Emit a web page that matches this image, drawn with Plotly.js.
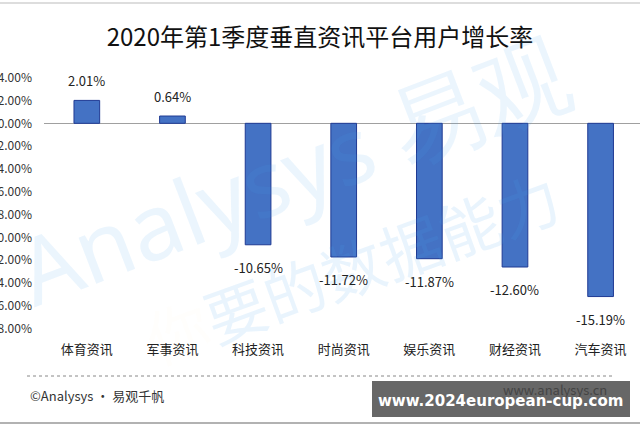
<!DOCTYPE html>
<html><head><meta charset="utf-8">
<script src="https://cdn.plot.ly/plotly-3.0.1.min.js"></script>
<style>html,body{margin:0;padding:0;overflow:hidden;background:#fff}#chart{width:640px;height:427px}</style>
</head><body><div id="chart"></div>
<script>
const categories = ["体育资讯","军事资讯","科技资讯","时尚资讯","娱乐资讯","财经资讯","汽车资讯"];
const growth = [2.01, 0.64, -10.65, -11.72, -11.87, -12.60, -15.19];
const yTicks = [4,2,0,-2,-4,-6,-8,-10,-12,-14,-16,-18];

const W = 640, H = 427;
const M = {l:44, r:0, t:72, b:87};
const PW = W - M.l - M.r, PH = H - M.t - M.b;
const px = x => (x - M.l) / PW;
const py = y => (H - M.b - y) / PH;

const fontCJK = '"Noto Sans CJK SC", "Noto Sans", sans-serif';

const annotations = [
  {xref:'paper', yref:'paper', x:px(292), y:py(170), xanchor:'center', yanchor:'middle', text:'Analysys 易观', showarrow:false,
   textangle:-21, font:{family:'"Noto Sans", sans-serif', size:92, color:'rgba(70,165,235,0.11)'}},
  {xref:'paper', yref:'paper', x:px(352), y:py(266), xanchor:'center', yanchor:'middle', showarrow:false, textangle:-20,
   text:'<span style="color:rgba(250,160,70,0.14)">你</span>要的数据能力',
   font:{family:fontCJK, size:62, color:'rgba(70,165,235,0.12)'}}
];

growth.forEach((v, i) => annotations.push({
  x: categories[i], y: v, xref: 'x', yref: 'y',
  text: v.toFixed(2) + '%', showarrow: false,
  xanchor: 'center', yanchor: v >= 0 ? 'bottom' : 'top',
  yshift: v >= 0 ? 8 : -11,
  font: {family: fontCJK, size: 13, color: '#222'}
}));

annotations.push(
  {xref:'paper', yref:'paper', x:px(28), y:py(395), xanchor:'left', yanchor:'middle', showarrow:false,
   text:'©Analysys · 易观千帆', font:{family:fontCJK, size:13, color:'#333'}},
  {xref:'paper', yref:'paper', x:px(609), y:py(389), xanchor:'right', yanchor:'middle', showarrow:false,
   text:'www.analysys.cn', font:{family:fontCJK, size:13, color:'#444'}},
  {xref:'paper', yref:'paper', x:px(500), y:py(401), xanchor:'center', yanchor:'middle', showarrow:false,
   text:'<b>www.2024european-cup.com</b>', font:{family:'"DejaVu Sans", sans-serif', size:15, color:'#fff'}}
);

const shapes = [
  {type:'line', xref:'paper', yref:'paper', x0:px(0), x1:px(640), y0:py(3), y1:py(3), line:{color:'#bbb', width:1}},
  {type:'line', xref:'paper', yref:'paper', x0:px(27), x1:px(612), y0:py(376), y1:py(376), line:{color:'#888', width:1, dash:'dot'}},
  {type:'rect', xref:'paper', yref:'paper', x0:px(372), x1:px(630), y0:py(381), y1:py(417), fillcolor:'rgba(90,90,90,0.92)', line:{width:0}},
  {type:'line', xref:'paper', yref:'paper', x0:px(0), x1:px(640), y0:py(423), y1:py(423), line:{color:'#999', width:1.5}}
];

const data = [{
  type:'bar', x:categories, y:growth,
  marker:{color:'#4472C4', line:{color:'#1f3a93', width:1}},
  hoverinfo:'none'
}];

const layout = {
  width:W, height:H, margin:M,
  paper_bgcolor:'#fff', plot_bgcolor:'rgba(0,0,0,0)',
  showlegend:false, bargap:0.7,
  title:{text:'2020年第1季度垂直资讯平台用户增长率', x:0.5, xref:'container', xanchor:'center', y:1-38/H, yanchor:'middle',
         font:{family:fontCJK, size:24, color:'#111'}},
  xaxis:{type:'category', range:[-0.5, 6.46], showline:false, showgrid:false, zeroline:false, ticks:'',
         tickfont:{family:fontCJK, size:13, color:'#222'}, fixedrange:true},
  yaxis:{range:[-19, 4.5], tickvals:yTicks, ticktext:yTicks.map(v => v.toFixed(2) + '%'),
         showgrid:false, showline:false, zeroline:true, zerolinecolor:'#a0a0a0', zerolinewidth:1,
         ticks:'', ticklabelstandoff:11, automargin:false,
         tickfont:{family:fontCJK, size:12, color:'#333'}, fixedrange:true},
  annotations, shapes
};

Plotly.newPlot('chart', data, layout, {staticPlot:true, displayModeBar:false});
</script></body></html>
